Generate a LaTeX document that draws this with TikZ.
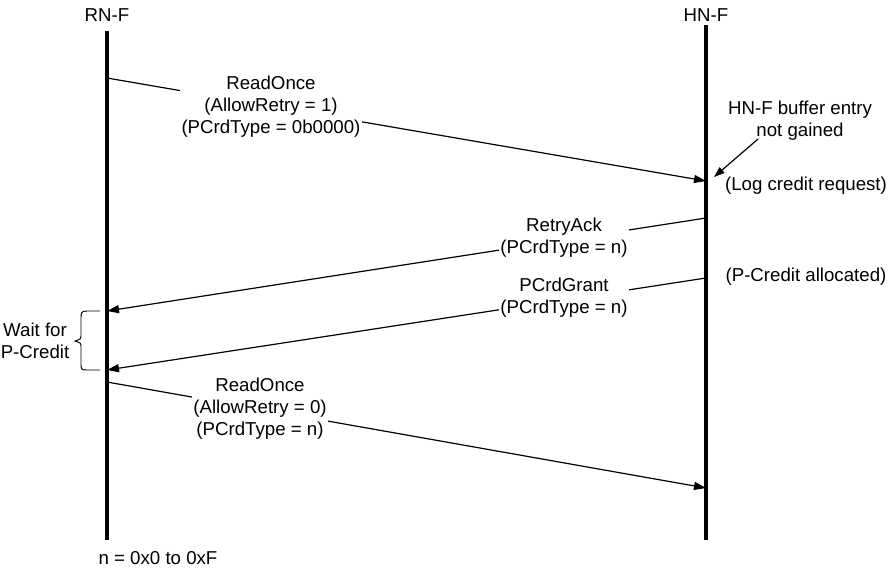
\documentclass[tikz,border=0pt]{standalone}
\usepackage{fontspec}
\setmainfont{Liberation Sans}
\usetikzlibrary{arrows.meta}

\tikzset{
  lifeline/.style={-, line width=2.3pt},
  msg/.style={-{Triangle[length=9pt,width=6pt]}, line width=0.9pt},
  lbl/.style={fill=white, inner sep=1pt, align=center, font=\fontsize{14}{16.5}\selectfont},
  note/.style={inner sep=1pt, align=center, font=\fontsize{14}{16.5}\selectfont}
}

\begin{document}
\begin{tikzpicture}[x=0.75pt,y=-0.75pt]
            \useasboundingbox (0,0) rectangle (888,568);

            % lifelines
            \node[note] (rn) at (107,15) {RN-F};
            \node[note] (hn) at (706,15) {HN-F};
            \coordinate (rntop) at (107,31);
            \coordinate (rnbot) at (107,540);
            \coordinate (hntop) at (706,25);
            \coordinate (hnbot) at (706,540);
            \draw[lifeline] (rntop) -- (rnbot);
            \draw[lifeline] (hntop) -- (hnbot);

            % message points
            \coordinate (r1) at (107,78);
            \coordinate (h1) at (706,181);
            \coordinate (h2) at (706,218);
            \coordinate (r2) at (107,311);
            \coordinate (h3) at (706,278);
            \coordinate (r3) at (107,370);
            \coordinate (r4) at (107,382);
            \coordinate (h4) at (706,488);

            \draw[msg] (r1) -- (h1);
            \node[lbl] (readonce) at (271,107) {ReadOnce\\(AllowRetry = 1)\\(PCrdType = 0b0000)};

            \draw[msg] (h2) -- (r2);
            \node[lbl] (retryack) at (564,238) {RetryAck\\(PCrdType = n)};

            \draw[msg] (h3) -- (r3);
            \node[lbl] (pcrdgrant) at (564,298) {PCrdGrant\\(PCrdType = n)};

            \draw[msg] (r4) -- (h4);
            \node[lbl] (readagain) at (260,409) {ReadOnce\\(AllowRetry = 0)\\(PCrdType = n)};

            % notes at HN-F
            \node[note] (buffer) at (800,121) {HN-F buffer entry\\not gained};
            \node[note] (logreq) at (806,186) {(Log credit request)};
            \node[note] (alloc) at (806,277) {(P-Credit allocated)};
            \coordinate (bufstart) at (758,139);
            \coordinate (buftip) at (714,177);
            \draw[msg, -{Triangle[length=8pt,width=5.5pt]}] (bufstart) -- (buftip);

            % wait brace
            \node[note] (wait) at (35,341) {Wait for\\P-Credit};
            \draw[line width=0.7pt] (100,311) -- (87,311) .. controls (81,311) and (81,313) .. (81,318)
                -- (81,335) .. controls (81,339) .. (75,341) .. controls (81,343) .. (81,347)
                -- (81,364) .. controls (81,369) and (81,370) .. (87,370) -- (100,370);

            \node[note] (range) at (158,558) {n = 0x0 to 0xF};
        \end{tikzpicture}
\end{document}
